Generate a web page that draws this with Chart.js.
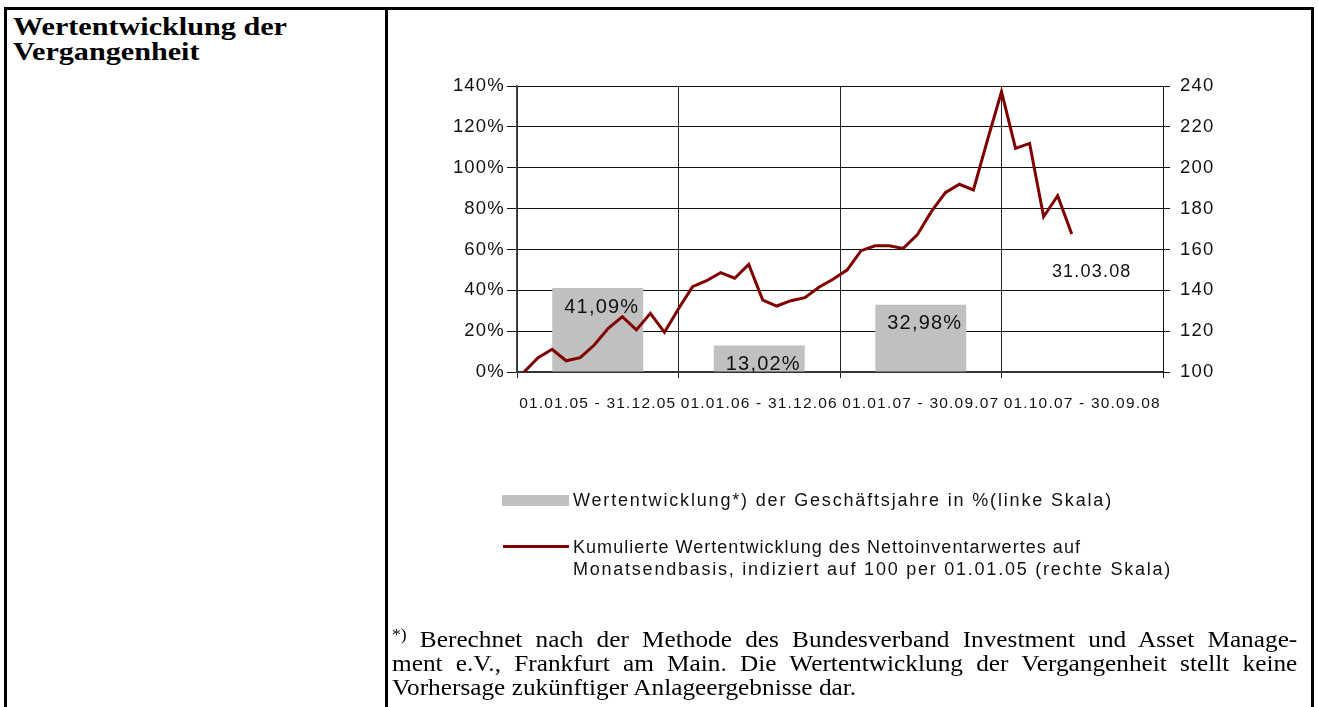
<!DOCTYPE html>
<html>
<head>
<meta charset="utf-8">
<script src="https://cdn.jsdelivr.net/npm/chart.js@4.4.1/dist/chart.umd.min.js"></script>
<style>
html,body{margin:0;padding:0;background:#fff;}
body{width:1318px;height:707px;position:relative;overflow:hidden;}
.b{position:absolute;background:#000;}
#title{position:absolute;left:13px;top:14px;font:bold 26px/25px "Liberation Serif",serif;color:#000;transform-origin:0 0;transform:scaleX(1.16);white-space:nowrap;}
#c{position:absolute;left:0;top:0;}
#legend{position:absolute;left:0;top:0;width:1318px;height:707px;pointer-events:none;font-family:"Liberation Sans",Arial,sans-serif;font-size:18px;color:#111;}
.lg-box{position:absolute;background:#c0c0c0;}
.lg-line{position:absolute;background:#800000;}
.lg-txt{position:absolute;white-space:nowrap;line-height:22px;display:inline-block;}
#foot{position:absolute;left:392px;top:628px;width:823px;transform:scaleX(1.1);transform-origin:0 0;font:23px/24px "Liberation Serif",serif;color:#000;}
#foot .j{text-align:justify;text-align-last:justify;white-space:nowrap;}
#foot sup{font-size:16px;line-height:0;vertical-align:7px;}
</style>
</head>
<body>
<div class="b" style="left:4px;top:7px;width:1310px;height:3px;"></div>
<div class="b" style="left:4px;top:7px;width:3px;height:700px;"></div>
<div class="b" style="left:385px;top:7px;width:3px;height:700px;"></div>
<div class="b" style="left:1311px;top:7px;width:3px;height:700px;"></div>
<div id="title">Wertentwicklung der<br>Vergangenheit</div>
<canvas id="c" width="1318" height="707"></canvas>
<div id="legend"></div>
<div id="foot">
<div class="j"><sup>*)</sup> Berechnet nach der Methode des Bundesverband Investment und Asset Manage-</div>
<div class="j">ment e.V., Frankfurt am Main. Die Wertentwicklung der Vergangenheit stellt keine</div>
<div>Vorhersage zukünftiger Anlageergebnisse dar.</div>
</div>
<script>
// ---- data ----
const periods = ['01.01.05 - 31.12.05', '01.01.06 - 31.12.06', '01.01.07 - 30.09.07', '01.10.07 - 30.09.08'];
const yearReturns = [41.09, 13.02, 32.98, null];
const monthDates = ['01.01.05','31.01.05','28.02.05','31.03.05','30.04.05','31.05.05','30.06.05','31.07.05','31.08.05','30.09.05','31.10.05','30.11.05','31.12.05',
  '31.01.06','28.02.06','31.03.06','30.04.06','31.05.06','30.06.06','31.07.06','31.08.06','30.09.06','31.10.06','30.11.06','31.12.06',
  '31.01.07','28.02.07','31.03.07','30.04.07','31.05.07','30.06.07','31.07.07','31.08.07','30.09.07','31.10.07','30.11.07','31.12.07',
  '31.01.08','29.02.08','31.03.08','30.04.08','31.05.08','30.06.08','31.07.08','31.08.08','30.09.08'];
const navIndex = [100, 107.0, 111.1, 105.5, 107.0, 113.2, 121.4, 127.1, 120.6, 128.7, 119.4, 131.0, 141.8,
  144.7, 148.6, 145.9, 152.7, 135.2, 132.3, 134.9, 136.4, 141.5, 145.4, 149.9, 159.4,
  161.8, 161.8, 160.5, 167.1, 178.5, 187.8, 191.9, 189.1, 213.5, 237.2, 209.5, 211.9,
  176.0, 186.3, 167.6];
const leftAxis = {min: 0, max: 140, step: 20};
const rightAxis = {min: 100, max: 240, step: 20};
const barLabel = 'Wertentwicklung*) der Geschäftsjahre in %(linke Skala)';
const lineLabel = ['Kumulierte Wertentwicklung des Nettoinventarwertes auf', 'Monatsendbasis, indiziert auf 100 per 01.01.05 (rechte Skala)'];

const FONT = '"Liberation Sans", Arial, sans-serif';
const fmtPct = v => v.toFixed(2).replace('.', ',') + '%';

const spacingPlugin = {
  id: 'spacing',
  beforeLayout(c) { c.ctx.letterSpacing = '1.2px'; },
  beforeDraw(c) { c.ctx.letterSpacing = '1.2px'; }
};

const labelPlugin = {
  id: 'labels',
  afterDatasetsDraw(chart) {
    const ctx = chart.ctx;
    ctx.save();
    ctx.letterSpacing = '1.2px';
    ctx.fillStyle = '#111';
    ctx.textAlign = 'center';
    ctx.textBaseline = 'middle';
    const barMeta = chart.getDatasetMeta(0);
    ctx.font = '20px ' + FONT;
    barMeta.data.forEach((el, i) => {
      const v = chart.data.datasets[0].data[i];
      if (v == null) return;
      ctx.fillText(fmtPct(v), el.x + 4, el.y + 19);
    });
    const lineMeta = chart.getDatasetMeta(1);
    const d = chart.data.datasets[1].data;
    let last = d.length - 1;
    while (last > 0 && d[last] == null) last--;
    const pt = lineMeta.data[last];
    ctx.font = '18px ' + FONT;
    ctx.fillText(monthDates[last], pt.x + 20, pt.y + 38);
    ctx.restore();
  }
};

function fitSpacing(el, target) {
  el.style.letterSpacing = '0px';
  const w = el.getBoundingClientRect().width;
  const n = el.textContent.length;
  el.style.letterSpacing = ((target - w) / n) + 'px';
}

const htmlLegend = {
  id: 'htmlLegend',
  afterUpdate(chart) {
    const box = document.getElementById('legend');
    box.innerHTML = '';
    const ds = chart.data.datasets;
    const sw = document.createElement('div');
    sw.className = 'lg-box';
    sw.style.cssText = 'left:502px;top:495px;width:67px;height:11px;background:' + ds[0].backgroundColor;
    box.appendChild(sw);
    const t1 = document.createElement('div');
    t1.className = 'lg-txt';
    t1.style.cssText = 'left:573px;top:489px;';
    t1.textContent = ds[0].label;
    box.appendChild(t1);
    fitSpacing(t1, 540);
    const ln = document.createElement('div');
    ln.className = 'lg-line';
    ln.style.cssText = 'left:503px;top:545px;width:66px;height:3px;background:' + ds[1].borderColor;
    box.appendChild(ln);
    const lines = ds[1].label;
    const targets = [508, 599];
    lines.forEach((s, i) => {
      const t = document.createElement('div');
      t.className = 'lg-txt';
      t.style.cssText = 'left:573px;top:' + (536 + i * 22) + 'px;';
      t.textContent = s;
      box.appendChild(t);
      fitSpacing(t, targets[i]);
    });
  }
};

new Chart(document.getElementById('c'), {
  type: 'bar',
  data: {
    datasets: [
      {
        type: 'bar',
        label: barLabel,
        data: yearReturns,
        backgroundColor: '#c0c0c0',
        borderWidth: 0,
        xAxisID: 'x',
        yAxisID: 'y',
        grouped: false,
        barPercentage: 0.563,
        categoryPercentage: 1,
        order: 1
      },
      {
        type: 'line',
        label: lineLabel,
        data: navIndex,
        borderColor: '#800000',
        borderWidth: 3,
        pointRadius: 0,
        tension: 0,
        fill: false,
        xAxisID: 'x2',
        yAxisID: 'yR',
        order: 0
      }
    ]
  },
  options: {
    responsive: false,
    devicePixelRatio: 1,
    animation: false,
    layout: {padding: {left: 400, right: 0, top: 86, bottom: 295}},
    plugins: {legend: {display: false}, tooltip: {enabled: false}},
    scales: {
      x: {
        type: 'category',
        labels: periods,
        position: 'bottom',
        offset: true,
        grid: {offset: true, color: '#222', lineWidth: 1, tickLength: 6, drawTicks: true},
        border: {color: '#333', width: 2},
        ticks: {font: {family: FONT, size: 15.5}, color: '#111', padding: 16, maxRotation: 0, autoSkip: false},
        afterFit(s) { s.height = 40; }
      },
      x2: {
        type: 'category',
        labels: monthDates,
        offset: true,
        display: false
      },
      y: {
        position: 'left',
        min: leftAxis.min, max: leftAxis.max,
        ticks: {stepSize: leftAxis.step, callback: v => v + '%', font: {family: FONT, size: 18.5}, color: '#111', padding: 2},
        grid: {color: '#111', lineWidth: 1, tickLength: 10},
        border: {color: '#444', width: 1.5},
        afterFit(s) { s.width = 117; }
      },
      yR: {
        position: 'right',
        min: rightAxis.min, max: rightAxis.max,
        ticks: {stepSize: rightAxis.step, font: {family: FONT, size: 18.5}, color: '#111', padding: 10},
        grid: {drawOnChartArea: false, color: '#111', tickLength: 7},
        border: {color: '#111', width: 1},
        afterFit(s) { s.width = 155; }
      }
    }
  },
  plugins: [spacingPlugin, labelPlugin, htmlLegend]
});
</script>
</body>
</html>
